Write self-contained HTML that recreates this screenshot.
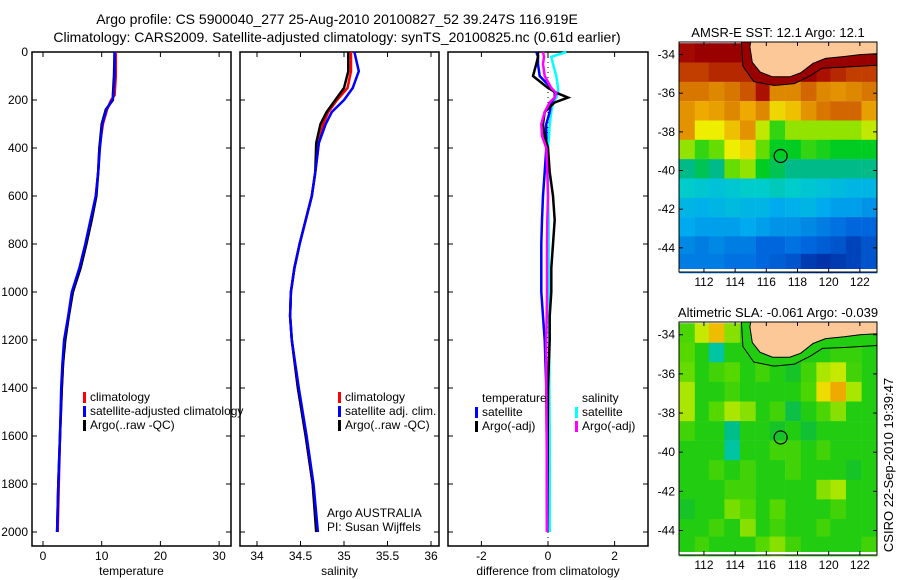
<!DOCTYPE html>
<html><head><meta charset="utf-8"><style>
html,body{margin:0;padding:0;background:#fff;}
svg{display:block;font-family:"Liberation Sans",sans-serif;}
text{fill:#000;}
</style></head><body>
<svg id="fig" width="900" height="580" viewBox="0 0 900 580" xmlns="http://www.w3.org/2000/svg">
<text x="337" y="24" font-size="14" text-anchor="middle">Argo profile: CS 5900040_277 25-Aug-2010 20100827_52 39.247S 116.919E</text>
<text x="337" y="42" font-size="14" text-anchor="middle">Climatology: CARS2009. Satellite-adjusted climatology: synTS_20100825.nc (0.61d earlier)</text>
<g id="g1"></g>
<g id="g2"></g>
<g id="g3"></g>
<g id="m1"></g>
<g id="m2"></g>
<text x="0" y="0" font-size="13" text-anchor="middle" transform="translate(893,465) rotate(-90)">CSIRO 22-Sep-2010 19:39:47</text>
</svg>
<script>
// ---- profile data ----
const depthT = [0,100,180,200,240,300,400,500,600,700,800,900,1000,1100,1200,1300,1400,1600,1800,2000];
const tempClim = [12.4,12.4,12.2,11.6,10.9,10.2,9.6,9.4,9.0,8.2,7.3,6.3,5.0,4.4,3.7,3.4,3.2,2.9,2.7,2.5];
const tempSat  = [12.2,12.2,12.0,11.8,10.8,10.1,9.7,9.4,9.0,8.1,7.2,6.2,4.9,4.3,3.6,3.3,3.1,2.9,2.6,2.4];
const tempArgo = [12.2,12.1,11.9,11.9,10.7,10.0,9.6,9.4,9.1,8.3,7.4,6.4,5.1,4.4,3.8,3.4,3.2,2.9,2.6,2.4];
const depthS = [0,80,150,200,250,300,380,500,600,700,800,900,1000,1100,1200,1400,1600,1800,2000];
const salClim = [35.08,35.08,35.04,34.92,34.82,34.76,34.71,34.67,34.63,34.56,34.49,34.43,34.39,34.38,34.40,34.47,34.56,34.64,34.69];
const salSat  = [35.12,35.17,35.10,35.00,34.86,34.79,34.71,34.67,34.63,34.56,34.49,34.43,34.39,34.38,34.40,34.48,34.57,34.65,34.70];
const salArgo = [35.05,35.05,35.00,34.90,34.80,34.73,34.68,34.67,34.63,34.56,34.49,34.43,34.39,34.38,34.40,34.47,34.56,34.64,34.68];
const depthD = [0,20,50,100,150,170,190,210,250,300,350,400,500,600,700,800,900,1000,1100,1200,1400,1600,2000];
const dTsat  = [-0.35,-0.3,-0.3,-0.25,0.1,0.2,0.2,0.1,0.05,-0.05,-0.05,-0.05,-0.1,-0.15,-0.18,-0.2,-0.2,-0.2,-0.15,-0.1,-0.05,-0.04,-0.03];
const dTargo = [-0.3,-0.3,-0.35,-0.45,0.0,0.25,0.6,0.2,-0.1,-0.15,-0.1,0.0,0.05,0.15,0.2,0.15,0.1,0.1,0.05,0.05,0.0,-0.01,-0.02];
const dSsat  = [0.55,0.1,0.15,0.25,0.3,0.3,0.25,0.15,0.1,0.05,0.03,0.0,0.0,0.0,0.02,0.02,0.02,0.03,0.03,0.04,0.04,0.05,0.05];
const dSargo = [-0.15,-0.12,-0.15,-0.1,0.1,0.25,0.2,0.05,-0.1,-0.2,-0.18,-0.05,-0.02,0.0,-0.02,-0.03,-0.03,-0.03,-0.04,-0.05,-0.05,-0.04,-0.03];
const depthTicks = [0,200,400,600,800,1000,1200,1400,1600,1800,2000];
const tempTicks = [0,10,20,30];
const salTicks = [34,34.5,35,35.5,36];
const salTickLabels = ["34","34.5","35","35.5","36"];
const diffTicks = [-2,0,2];

// ---- map data (1-degree-ish cells, rows north->south) ----
const mapLons = [110.9,111.9,112.8,113.8,114.8,115.8,116.7,117.7,118.7,119.7,120.6,121.6,122.6];
const mapLats = [-33.9,-34.9,-35.9,-36.9,-37.9,-38.9,-39.9,-40.9,-41.9,-42.9,-43.9,-44.8];
const sstRows = [
[16.0,16.2,16.2,16.2,16.2,16.2,16.2,16,16,16,16,16,16],
[15.4,15.4,15.6,15.6,15.6,16.2,16.2,16.2,16.2,15.8,15.6,15.4,15.4],
[14.8,14.8,14.6,14.8,15.2,15.8,14.6,14.6,15.0,14.6,14.4,14.6,14.8],
[14.4,14.0,14.2,14.6,14.0,14.6,13.6,13.8,14.4,14.8,15.0,15.0,14.2],
[14.4,13.4,13.4,13.8,14.4,13.2,12.6,13.0,13.0,13.0,13.0,13.0,13.2],
[13.0,12.6,12.8,13.4,13.6,12.8,12.4,12.4,12.6,12.5,12.4,12.4,12.4],
[12.0,12.2,12.0,12.8,13.0,12.4,12.2,12.0,12.0,12.0,12.0,12.0,12.0],
[11.6,11.5,11.4,11.5,11.6,11.6,11.7,11.6,11.5,11.4,11.3,11.2,11.2],
[11.2,11.1,11.2,11.3,11.2,11.2,11.0,11.1,11.2,11.0,10.9,10.9,10.8],
[11.0,10.9,10.9,10.9,11.0,10.9,10.8,10.8,10.7,10.6,10.5,10.4,10.4],
[10.7,10.6,10.7,10.6,10.6,10.4,10.4,10.5,10.4,10.3,10.2,10.0,10.2],
[10.6,10.6,10.6,10.5,10.5,10.4,10.3,10.2,9.9,9.8,9.9,10.0,10.2]];
const slaRows = [
[0.04,0.12,0.2,0.08,0.02,0.0,0,0,0,0,0,0,0],
[0.05,0.0,-0.15,0.0,0.0,-0.02,0,0,0,0.0,0.02,0.02,0.0],
[0.06,0.0,0.03,0.05,0.0,0.03,0.0,-0.02,0.03,0.1,0.12,0.03,0.0],
[0.1,0.0,0.0,0.03,0.0,0.0,0.0,0.0,0.04,0.17,0.24,0.1,0.0],
[0.1,0.0,0.05,0.1,0.08,0.0,0.03,-0.05,0.0,0.04,0.08,0.0,0.0],
[0.03,0.0,0.0,-0.12,0.0,0.0,-0.02,0.0,-0.03,0.0,0.0,0.0,0.0],
[0.0,0.0,0.0,-0.15,0.0,0.0,0.03,0.03,0.0,0.03,0.0,0.0,0.0],
[0.0,0.0,0.03,0.0,0.03,0.0,0.0,0.03,0.0,0.0,0.0,-0.02,0.0],
[0.0,0.0,0.0,0.03,0.03,0.0,0.0,0.0,0.0,0.08,0.1,0.0,0.0],
[-0.02,0.0,0.0,0.07,0.05,0.0,0.05,0.0,0.0,0.0,0.03,0.0,0.0],
[0.0,0.0,0.03,0.0,0.08,0.0,0.03,0.0,0.0,0.03,0.0,0.0,0.0],
[0.0,0.03,0.0,0.0,0.0,0.05,0.08,0.03,0.0,0.0,0.0,0.0,0.03]];
const coastLon = [115.0,114.95,115.1,115.6,116.4,117.5,118.2,119.0,119.8,121.0,122.0,123.1,123.1];
const coastLat = [-33.35,-33.6,-34.4,-34.9,-35.15,-35.15,-34.95,-34.45,-34.2,-34.1,-34.0,-33.95,-33.35];
const shelfLon = [114.4,114.5,115.2,116.5,117.8,118.8,119.6,121.0,123.1];
const shelfLat = [-33.35,-34.6,-35.4,-35.6,-35.5,-35.1,-34.7,-34.65,-34.55];
const argoLon = 116.919, argoLat = -39.247;
const lonTicks = [112,114,116,118,120,122];
const latTicks = [-34,-36,-38,-40,-42,-44];

const NS="http://www.w3.org/2000/svg";
function mk(parent,tag,attrs,txt){const e=document.createElementNS(NS,tag);for(const k in attrs)e.setAttribute(k,attrs[k]);if(txt!==undefined)e.textContent=txt;parent.appendChild(e);return e;}

const yD = d => 52 + d*0.24;
const PT=52, PB=546;

function panel(g,L,R,xf,ticks,labels,xlabel,showDepth){
  const f = mk(g,'rect',{x:L,y:PT,width:R-L,height:PB-PT,fill:'none',stroke:'#000','stroke-width':1.5});
   
  ticks.forEach((t,i)=>{const x=xf(t);
    mk(g,'line',{x1:x,y1:PB,x2:x,y2:PB-5,stroke:'#000'});
    mk(g,'line',{x1:x,y1:PT,x2:x,y2:PT+5,stroke:'#000'});
    const tl=mk(g,'text',{x:x,y:560,'font-size':12,'text-anchor':'middle'},labels[i]);
     
  });
  depthTicks.forEach(d=>{const y=yD(d);
    mk(g,'line',{x1:L,y1:y,x2:L+5,y2:y,stroke:'#000'});
    mk(g,'line',{x1:R,y1:y,x2:R-5,y2:y,stroke:'#000'});
    if(showDepth){const tl=mk(g,'text',{x:L-4,y:y+4,'font-size':12,'text-anchor':'end'},String(d));
       }
  });
  const xl=mk(g,'text',{x:(L+R)/2,y:575,'font-size':12,'text-anchor':'middle'},xlabel);
   
}
function series(g,depths,vals,xf,color,w,name,dash){
  const pts=depths.map((d,i)=>xf(vals[i]).toFixed(1)+','+yD(d).toFixed(1)).join(' ');
  const p=mk(g,'polyline',{points:pts,fill:'none',stroke:color,'stroke-width':w,'stroke-linejoin':'miter'});
  if(dash)p.setAttribute('stroke-dasharray',dash);
   
}
function legend(g,x,y,color,label,name){
  if(color)mk(g,'rect',{x:x-7,y:y-9,width:3,height:11,fill:color});
  const t=mk(g,'text',{x:x,y:y,'font-size':12},label);
   
}

// Panel 1
const g1=document.getElementById('g1');
const xT=t=>43+t*5.87;
panel(g1,32,231,xT,tempTicks,tempTicks.map(String),'temperature',true);
series(g1,depthT,tempClim,xT,'#ff0000',2.5,'temp-climatology-line');
series(g1,depthT,tempArgo,xT,'#000000',2.5,'temp-argo-line');
series(g1,depthT,tempSat,xT,'#0000ff',2.5,'temp-satellite-line');
legend(g1,90,401,'#ff0000','climatology','legend-climatology');
legend(g1,90,415,'#0000ff','satellite-adjusted climatology','legend-satellite');
legend(g1,90,429,'#000000','Argo(..raw -QC)','legend-argo');

// Panel 2
const g2=document.getElementById('g2');
const xS=s=>257+(s-34)*87;
panel(g2,240,439,xS,salTicks,salTickLabels,'salinity',false);
series(g2,depthS,salClim,xS,'#ff0000',2.5,'sal-climatology-line');
series(g2,depthS,salArgo,xS,'#000000',2.5,'sal-argo-line');
series(g2,depthS,salSat,xS,'#0000ff',2.5,'sal-satellite-line');
legend(g2,345,401,'#ff0000','climatology','legend-climatology');
legend(g2,345,415,'#0000ff','satellite adj. clim.','legend-satellite');
legend(g2,345,429,'#000000','Argo(..raw -QC)','legend-argo');
legend(g2,327,517,null,'Argo AUSTRALIA','float-owner-label');
legend(g2,327,531,null,'PI: Susan Wijffels','pi-label');

// Panel 3
const g3=document.getElementById('g3');
const xDf=d=>548+d*33.3;
panel(g3,448,648,xDf,diffTicks,diffTicks.map(String),'difference from climatology',false);
const zl=mk(g3,'line',{x1:xDf(0),y1:PT,x2:xDf(0),y2:PB,stroke:'#000','stroke-dasharray':'1,4'});
 
series(g3,depthD,dSsat,xDf,'#00ffff',2.5,'sal-satellite-diff-line');
series(g3,depthD,dTsat,xDf,'#0000ff',2.5,'temp-satellite-diff-line');
series(g3,depthD,dTargo,xDf,'#000000',2.5,'temp-argo-diff-line');
series(g3,depthD,dSargo,xDf,'#ff00ff',2.5,'sal-argo-diff-line');
legend(g3,482,402,null,'temperature','legend-temperature-header');
legend(g3,482,416,'#0000ff','satellite','legend-temp-satellite');
legend(g3,482,430,'#000000','Argo(-adj)','legend-temp-argo');
legend(g3,582,402,null,'salinity','legend-salinity-header');
legend(g3,582,416,'#00ffff','satellite','legend-sal-satellite');
legend(g3,582,430,'#ff00ff','Argo(-adj)','legend-sal-argo');

// Maps
function cmap(stops,v){
  if(v<=stops[0][0])return stops[0][1];
  for(let i=1;i<stops.length;i++){if(v<=stops[i][0]){
    const a=stops[i-1],b=stops[i],f=(v-a[0])/(b[0]-a[0]);
    const ca=[1,3,5].map(k=>parseInt(a[1].substr(k,2),16)),cb=[1,3,5].map(k=>parseInt(b[1].substr(k,2),16));
    return 'rgb('+ca.map((c,j)=>Math.round(c+(cb[j]-c)*f)).join(',')+')';}}
  return stops[stops.length-1][1];
}
const sstStops=[[9.8,'#0033aa'],[10.4,'#0066dd'],[11,'#00aaee'],[11.6,'#00cccc'],[12.0,'#00bb88'],[12.4,'#00cc22'],[12.8,'#66dd00'],[13.4,'#eeee00'],[14.0,'#eeaa00'],[14.6,'#dd8800'],[15.2,'#cc5500'],[15.8,'#aa1100'],[16.2,'#990000']];
const slaStops=[[-0.2,'#00cccc'],[-0.1,'#00bb77'],[-0.03,'#11c033'],[0,'#22cc11'],[0.05,'#55d800'],[0.1,'#aae600'],[0.15,'#eeee00'],[0.22,'#eeaa00']];

function drawMap(g,top,bot,rows,stops,shelfFill,title,cellName){
  const L=679,R=877,lon0=110.4,lon1=123.1,lat0=-33.35,lat1=-45.25;
  const X=lo=>L+(lo-lon0)/(lon1-lon0)*(R-L);
  const Y=la=>top+(la-lat0)/(lat1-lat0)*(bot-top);
  const cw=(R-L)/mapLons.length, ch=(bot-3-top)/mapLats.length;
  mk(g,'rect',{x:L,y:top,width:R-L,height:bot-top,fill:'#fff'});
  rows.forEach((row,r)=>row.forEach((v,c)=>{
    const cell=mk(g,'rect',{x:(X(mapLons[c])-cw/2).toFixed(1),y:(Y(mapLats[r])-ch/2).toFixed(1),width:(cw+0.6).toFixed(1),height:(ch+0.6).toFixed(1),fill:cmap(stops,v)});
     
  }));
  mk(g,'rect',{x:L,y:bot-3,width:R-L,height:3,fill:'#fff'});
  const shelfPts=shelfLon.map((lo,i)=>X(lo).toFixed(1)+','+Y(shelfLat[i]).toFixed(1));
  const coastRev=coastLon.map((lo,i)=>X(lo).toFixed(1)+','+Y(coastLat[i]).toFixed(1)).reverse();
  const sh=mk(g,'polygon',{points:shelfPts.concat([X(123.1).toFixed(1)+','+Y(-33.35).toFixed(1)]).join(' '),fill:shelfFill});
   
  mk(g,'polyline',{points:shelfPts.join(' '),fill:'none',stroke:'#000','stroke-width':1});
  const land=mk(g,'polygon',{points:coastRev.join(' '),fill:'#fcc898',stroke:'#000','stroke-width':1});
   
  const c=mk(g,'circle',{cx:X(argoLon),cy:Y(argoLat),r:6.5,fill:'none',stroke:'#000','stroke-width':1.2});
   
  mk(g,'rect',{x:L,y:top,width:R-L,height:bot-top,fill:'none',stroke:'#000','stroke-width':1});
  lonTicks.forEach(lo=>{const x=X(lo);
    mk(g,'line',{x1:x,y1:bot,x2:x,y2:bot-4,stroke:'#000'});mk(g,'line',{x1:x,y1:top,x2:x,y2:top+4,stroke:'#000'});
    const t=mk(g,'text',{x:x,y:bot+14,'font-size':12,'text-anchor':'middle'},String(lo));
     });
  latTicks.forEach(la=>{const y=Y(la);
    mk(g,'line',{x1:L,y1:y,x2:L+4,y2:y,stroke:'#000'});mk(g,'line',{x1:R,y1:y,x2:R-4,y2:y,stroke:'#000'});
    const t=mk(g,'text',{x:L-4,y:y+4,'font-size':12,'text-anchor':'end'},String(la));
     });
  const tt=mk(g,'text',{x:(L+R)/2,y:top-5,'font-size':13,'text-anchor':'middle'},title);
   
}
drawMap(document.getElementById('m1'),42,272,sstRows,sstStops,'#990000','AMSR-E SST: 12.1 Argo: 12.1','sst-cell');
drawMap(document.getElementById('m2'),322,555,slaRows,slaStops,'#22cc11','Altimetric SLA: -0.061 Argo: -0.039','sla-cell');
</script>
</body></html>
